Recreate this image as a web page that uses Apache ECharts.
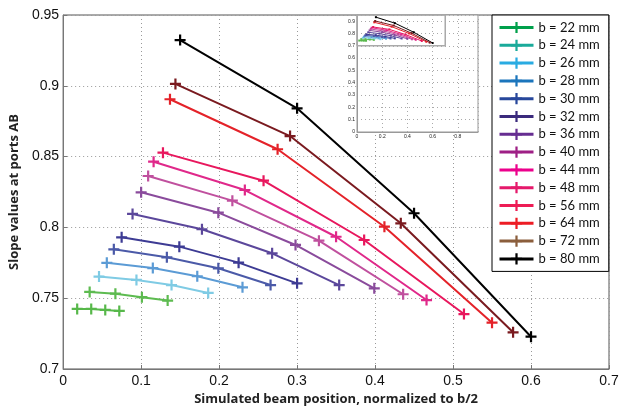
<!DOCTYPE html>
<html>
<head>
<meta charset="utf-8">
<script src="https://cdn.jsdelivr.net/npm/echarts@6/dist/echarts.min.js"></script>
<style>
  html, body { margin: 0; padding: 0; background: #fff; }
  #chart { width: 623px; height: 411px; }
</style>
</head>
<body>
<div id="chart"></div>
<script>
// b values and legend labels
var widths = [22, 24, 26, 28, 30, 32, 36, 40, 44, 48, 56, 64, 72, 80];
var names = widths.map(function (b) { return 'b = ' + b + ' mm'; });

// simulated beam position (normalized to b/2) per b
var pos22 = [0.018, 0.036, 0.054, 0.072];
var pos24 = [0.034, 0.067, 0.101, 0.134];
var pos26 = [0.046, 0.094, 0.139, 0.186];
var pos28 = [0.056, 0.115, 0.172, 0.230];
var pos30 = [0.065, 0.133, 0.199, 0.266];
var pos32 = [0.075, 0.149, 0.225, 0.300];
var pos36 = [0.089, 0.178, 0.268, 0.354];
var pos40 = [0.100, 0.199, 0.298, 0.399];
var pos44 = [0.109, 0.217, 0.328, 0.436];
var pos48 = [0.116, 0.233, 0.350, 0.466];
var pos56 = [0.128, 0.257, 0.386, 0.514];
var pos64 = [0.137, 0.275, 0.412, 0.550];
var pos72 = [0.144, 0.291, 0.433, 0.577];
var pos80 = [0.150, 0.300, 0.450, 0.600];

// slope values at ports AB per b
var slope22 = [0.7424, 0.7424, 0.7417, 0.7410];
var slope24 = [0.7544, 0.7532, 0.7507, 0.7483];
var slope26 = [0.7653, 0.7629, 0.7593, 0.7537];
var slope28 = [0.7750, 0.7713, 0.7655, 0.7577];
var slope30 = [0.7845, 0.7789, 0.7711, 0.7593];
var slope32 = [0.7930, 0.7864, 0.7751, 0.7605];
var slope36 = [0.8095, 0.7987, 0.7817, 0.7593];
var slope40 = [0.8248, 0.8104, 0.7876, 0.7570];
var slope44 = [0.8363, 0.8189, 0.7906, 0.7528];
var slope48 = [0.8464, 0.8264, 0.7934, 0.7487];
var slope56 = [0.8528, 0.8330, 0.7911, 0.7388];
var slope64 = [0.8905, 0.8552, 0.8005, 0.7327];
var slope72 = [0.9013, 0.8645, 0.8029, 0.7259];
var slope80 = [0.9323, 0.8841, 0.8100, 0.7228];

var positions = [pos22, pos24, pos26, pos28, pos30, pos32, pos36, pos40, pos44, pos48, pos56, pos64, pos72, pos80];
var slopes = [slope22, slope24, slope26, slope28, slope30, slope32, slope36, slope40, slope44, slope48, slope56, slope64, slope72, slope80];

// axis ticks
var xTicks = [0, 0.1, 0.2, 0.3, 0.4, 0.5, 0.6, 0.7];
var yTicks = [0.7, 0.75, 0.8, 0.85, 0.9, 0.95];
var insetXMax = 0.96, insetYMax = 0.95;

// colours: lines in the plot, and the legend swatches
var lineColors = ['#57b84a', '#5dbb50', '#7fcbe4', '#5b9bd5', '#4b5aa8', '#3d3b94', '#5b479b',
  '#8a4b9c', '#c0509e', '#e0288a', '#e8175d', '#e42229', '#7a1a1f', '#000000'];
var legendColors = ['#00a04b', '#1aaa9a', '#29abe2', '#1b75bc', '#27479b', '#3b2a7c', '#662d91',
  '#9e1f85', '#ec008c', '#e5196b', '#ed1c55', '#ed1c24', '#8b5e3c', '#000000'];

var plusSymbol = 'path://M0,4H10V6H0Z M4,0H6V10H4Z';

function pairs(xs, ys) {
  return xs.map(function (x, i) { return [x, ys[i]]; });
}

var series = [];
names.forEach(function (name, i) {
  series.push({
    name: name,
    type: 'line',
    data: pairs(positions[i], slopes[i]),
    symbol: plusSymbol,
    symbolSize: 11,
    lineStyle: { width: 2, color: lineColors[i] },
    itemStyle: { color: lineColors[i] },
    z: 3
  });
});
// small copy in the inset
names.forEach(function (name, i) {
  series.push({
    name: name,
    type: 'line',
    xAxisIndex: 1,
    yAxisIndex: 1,
    data: pairs(positions[i], slopes[i]),
    symbol: 'rect',
    symbolSize: 2,
    lineStyle: { width: 1, color: lineColors[i] },
    itemStyle: { color: lineColors[i] },
    z: 8
  });
});
// the zoomed region box in the inset
var xMin = xTicks[0], xMax = xTicks[xTicks.length - 1];
var yMin = yTicks[0], yMax = yTicks[yTicks.length - 1];
series.push({
  type: 'line',
  xAxisIndex: 1,
  yAxisIndex: 1,
  data: [[xMin, yMin], [xMax, yMin], [xMax, yMax], [xMin, yMax], [xMin, yMin]],
  symbol: 'none',
  silent: true,
  lineStyle: { width: 1.5, color: '#aaaaaa' },
  z: 7
});

var chart = echarts.init(document.getElementById('chart'));
var option = {
  animation: false,
  backgroundColor: '#fff',
  grid: [
    { left: 63, top: 15, right: 14, bottom: 42, show: true, borderColor: '#555', borderWidth: 1 },
    { left: 357, top: 15, width: 121, height: 117, show: true, backgroundColor: '#fff',
      borderColor: '#999', borderWidth: 1, z: 5 }
  ],
  legend: {
    orient: 'vertical',
    left: 492,
    top: 15,
    padding: [6, 9, 6, 6],
    itemWidth: 34,
    itemHeight: 14,
    itemGap: 4.8,
    borderColor: '#000',
    borderWidth: 1,
    backgroundColor: '#fff',
    textStyle: { fontFamily: 'Lato', fontSize: 13, color: '#111' },
    data: names.map(function (n, i) {
      return {
        name: n,
        itemStyle: { color: legendColors[i] },
        lineStyle: { color: legendColors[i], width: 3 }
      };
    })
  },
  xAxis: [
    {
      type: 'value', gridIndex: 0, min: xMin, max: xMax, interval: 0.1,
      name: 'Simulated beam position, normalized to b/2',
      nameLocation: 'middle', nameGap: 18,
      nameTextStyle: { fontFamily: 'Open Sans', fontWeight: 'bold', fontSize: 13, color: '#222' },
      axisLine: { lineStyle: { color: '#777' } },
      axisTick: { inside: true, length: 4, lineStyle: { color: '#777' } },
      axisLabel: { fontFamily: 'Liberation Sans', fontSize: 14, color: '#111', margin: 5 },
      splitLine: { show: true, lineStyle: { type: [1, 3], color: '#999' } }
    },
    {
      type: 'value', gridIndex: 1, min: 0, max: insetXMax, interval: 0.2, z: 6,
      axisLine: { lineStyle: { color: '#999' } },
      axisTick: { show: false },
      axisLabel: { fontSize: 5, color: '#222', margin: 2,
        showMaxLabel: false },
      splitLine: { show: true, lineStyle: { type: [1, 3], color: '#aaa' } }
    }
  ],
  yAxis: [
    {
      type: 'value', gridIndex: 0, min: yMin, max: yMax, interval: 0.05,
      name: 'Slope values at ports AB',
      nameLocation: 'middle', nameGap: 38,
      nameTextStyle: { fontFamily: 'Open Sans', fontWeight: 'bold', fontSize: 13, color: '#222' },
      axisLine: { lineStyle: { color: '#777' } },
      axisTick: { inside: true, length: 4, lineStyle: { color: '#777' } },
      axisLabel: { fontFamily: 'Liberation Sans', fontSize: 14, color: '#111', margin: 4 },
      splitLine: { show: true, lineStyle: { type: [1, 3], color: '#999' } }
    },
    {
      type: 'value', gridIndex: 1, min: 0, max: insetYMax, interval: 0.1, z: 6,
      axisLine: { lineStyle: { color: '#999' } },
      axisTick: { show: false },
      axisLabel: { fontSize: 5, color: '#222', margin: 2, showMaxLabel: false },
      splitLine: { show: true, lineStyle: { type: [1, 3], color: '#aaa' } }
    }
  ],
  series: series
};
chart.setOption(option);
</script>
</body>
</html>
